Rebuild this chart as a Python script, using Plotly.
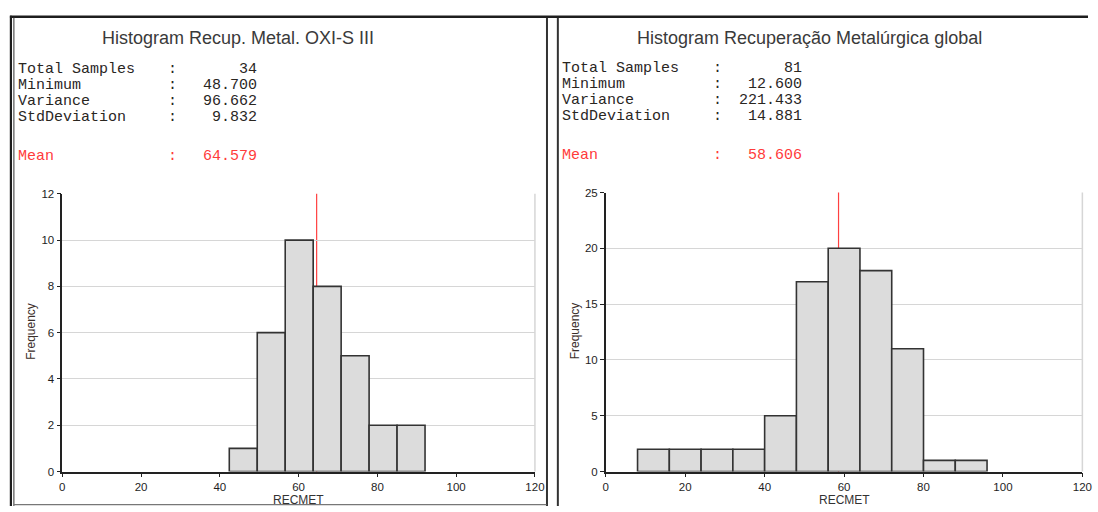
import plotly.graph_objects as go

W, H = 1098, 512

# ---------------- data ----------------
stat_labels = ["Total Samples", "Minimum", "Variance", "StdDeviation"]
mean_label = "Mean"

left_title = "Histogram Recup. Metal. OXI-S III"
left_stat_values = ["34", "48.700", "96.662", "9.832"]
left_mean = 64.579
left_bin_edges = [42.4, 49.5, 56.6, 63.7, 70.8, 77.9, 85.0, 92.1]
left_counts = [1, 6, 10, 8, 5, 2, 2]

right_title = "Histogram Recuperação Metalúrgica global"
right_stat_values = ["81", "12.600", "221.433", "14.881"]
right_mean = 58.606
right_bin_edges = [8, 16, 24, 32, 40, 48, 56, 64, 72, 80, 88, 96]
right_counts = [2, 2, 2, 2, 5, 17, 20, 18, 11, 1, 1]

x_label = "RECMET"
y_label = "Frequency"
x_ticks = [0, 20, 40, 60, 80, 100, 120]
x_range = [0, 120]
left_y_ticks = [0, 2, 4, 6, 8, 10, 12]
right_y_ticks = [0, 5, 10, 15, 20, 25]


def fx(px):
    return px / W


def fy(py):
    return 1 - py / H


SANS = "Liberation Sans, Arial, sans-serif"
MONO = "Liberation Mono, Courier New, monospace"

panels = [
    dict(title=left_title, vals=left_stat_values, mean=left_mean, edges=left_bin_edges,
         counts=left_counts, yticks=left_y_ticks,
         plot_x=(60, 538.3), plot_y=(192.3, 476.7),
         title_x=98, text_x=13, colon_x=172, val_x=259.5,
         rows_y=[65, 81.4, 97.8, 114.2], mean_y=154.3, freq_x=29, ax="x", ay="y"),
    dict(title=right_title, vals=right_stat_values, mean=right_mean, edges=right_bin_edges,
         counts=right_counts, yticks=right_y_ticks,
         plot_x=(610, 1092.3), plot_y=(191, 476.7),
         title_x=640, text_x=564, colon_x=723.5, val_x=811,
         rows_y=[63.5, 80, 96.5, 113], mean_y=153.3, freq_x=579, ax="x2", ay="y2"),
]

fig = go.Figure()
annotations = []
shapes = []
layout_axes = {}

for i, p in enumerate(panels):
    edges = p["edges"]
    centers = [(a + b) / 2 for a, b in zip(edges[:-1], edges[1:])]
    widths = [b - a for a, b in zip(edges[:-1], edges[1:])]
    fig.add_trace(go.Bar(
        x=centers, y=p["counts"], width=widths,
        marker=dict(color="#dcdcdc", line=dict(color="#333333", width=1.6)),
        xaxis=p["ax"], yaxis=p["ay"], showlegend=False, hoverinfo="skip",
    ))

    xk = "xaxis" if i == 0 else "xaxis2"
    yk = "yaxis" if i == 0 else "yaxis2"
    tickfont = dict(family=SANS, size=11.5, color="#1e1e1e")
    layout_axes[xk] = dict(
        domain=[fx(p["plot_x"][0]), fx(p["plot_x"][1])], range=x_range,
        tickvals=x_ticks, ticks="outside", ticklen=4, tickwidth=1, tickcolor="#222222",
        showline=True, linecolor="#222222", linewidth=1.5, showgrid=False, zeroline=False,
        tickfont=tickfont, anchor=p["ay"], fixedrange=True, ticklabeloverflow="allow",
    )
    layout_axes[yk] = dict(
        domain=[fy(p["plot_y"][1]), fy(p["plot_y"][0])],
        range=[p["yticks"][0], p["yticks"][-1]],
        tickvals=p["yticks"], ticks="outside", ticklen=4, tickwidth=1, tickcolor="#222222",
        showline=True, linecolor="#222222", linewidth=1.5, showgrid=True,
        gridcolor="#d6d6d6", gridwidth=1, zeroline=False,
        tickfont=tickfont, anchor=p["ax"], fixedrange=True,
    )

    xdom = p["ax"] + " domain"
    ydom = p["ay"] + " domain"
    # mean line (behind bars)
    shapes.append(dict(type="line", xref=p["ax"], yref=ydom, x0=p["mean"], x1=p["mean"],
                       y0=0, y1=1, line=dict(color="#ff4040", width=1.2), layer="below"))
    # light right frame line
    shapes.append(dict(type="line", xref=xdom, yref=ydom, x0=1, x1=1, y0=0, y1=1,
                       line=dict(color="#d6d6d6", width=1.5), layer="below"))

    # title
    annotations.append(dict(text=p["title"], x=fx(p["title_x"]), y=fy(33), xref="paper", yref="paper",
                            xanchor="left", yanchor="middle", showarrow=False,
                            font=dict(family=SANS, size=18, color="#3a3a3a")))
    # statistics block
    for lab, val, ry in zip(stat_labels, p["vals"], p["rows_y"]):
        for txt, xx, anc in ((lab, p["text_x"], "left"), (":", p["colon_x"], "center"),
                             (val, p["val_x"], "right")):
            annotations.append(dict(text=txt, x=fx(xx), y=fy(ry), xref="paper", yref="paper",
                                    xanchor=anc, yanchor="middle", showarrow=False,
                                    font=dict(family=MONO, size=15, color="#2a261f")))
    for txt, xx, anc in ((mean_label, p["text_x"], "left"), (":", p["colon_x"], "center"),
                         (f"{p['mean']:.3f}", p["val_x"], "right")):
        annotations.append(dict(text=txt, x=fx(xx), y=fy(p["mean_y"]), xref="paper", yref="paper",
                                xanchor=anc, yanchor="middle", showarrow=False,
                                font=dict(family=MONO, size=15, color="#ff3b3b")))
    # axis titles
    annotations.append(dict(text=y_label, x=fx(p["freq_x"]), y=fy(333), xref="paper", yref="paper",
                            xanchor="center", yanchor="middle", showarrow=False, textangle=-90,
                            font=dict(family=SANS, size=12, color="#3a2e2a")))
    annotations.append(dict(text=x_label, x=fx((p["plot_x"][0] + p["plot_x"][1]) / 2), y=fy(505.5),
                            xref="paper", yref="paper", xanchor="center", yanchor="middle",
                            showarrow=False, font=dict(family=SANS, size=12, color="#333333")))


# panel borders
def pline(x0, y0, x1, y1, color, width):
    shapes.append(dict(type="line", xref="paper", yref="paper", x0=fx(x0), x1=fx(x1),
                       y0=fy(y0), y1=fy(y1), line=dict(color=color, width=width), layer="above"))


pline(7, 11, W, 11, "#1e1e1e", 2.5)           # top border
pline(8, 10, 8, H, "#1e1e1e", 2.2)            # left outer
pline(11, 12, 11, H, "#555555", 1.2)          # left inner
pline(550.5, 12, 550.5, H, "#333333", 2)      # left panel right border
pline(561.5, 12, 561.5, H, "#333333", 2)      # right panel left border
pline(11, 510.5, 550, 510.5, "#777777", 1.2)  # left panel bottom

fig.update_layout(
    width=W, height=H, margin=dict(l=0, r=0, t=0, b=0),
    paper_bgcolor="white", plot_bgcolor="white",
    annotations=annotations, shapes=shapes, showlegend=False,
    **layout_axes,
)

fig.write_html("out.html")
